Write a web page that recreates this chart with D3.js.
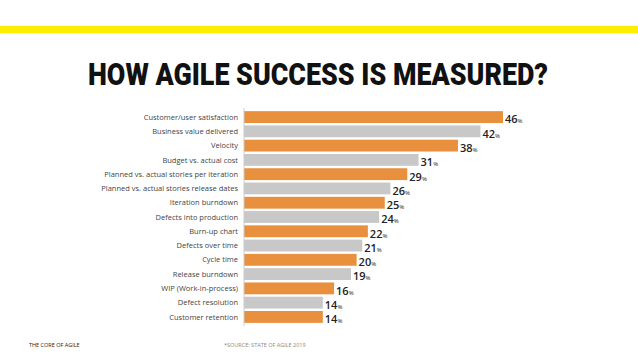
<html>
<head>
<style>
  body { margin: 0; background: #fff; }
  text { font-family: "Open Sans", sans-serif; }
</style>
</head>
<body>
<svg id="mainSvg" width="638" height="359"></svg>
<script src="https://cdn.jsdelivr.net/npm/d3@7/dist/d3.min.js"></script>
<script>
  const categories = [
    'Customer/user satisfaction', 'Business value delivered', 'Velocity',
    'Budget vs. actual cost', 'Planned vs. actual stories per iteration',
    'Planned vs. actual stories release dates', 'Iteration burndown',
    'Defects into production', 'Burn-up chart', 'Defects over time',
    'Cycle time', 'Release burndown', 'WIP (Work-in-process)',
    'Defect resolution', 'Customer retention'
  ]
  const values = [46, 42, 38, 31, 29, 26, 25, 24, 22, 21, 20, 19, 16, 14, 14]
  const barColors = ['#e8903d', '#c8c8c8']

  const svg = d3.select('#mainSvg')

  // yellow rule + title
  svg.append('rect').attr('x', 0).attr('y', 26).attr('width', 638).attr('height', 7).attr('fill', '#ffee00')
  svg.append('text')
     .attr('x', 88).attr('y', 85)
     .attr('textLength', 460).attr('lengthAdjust', 'spacingAndGlyphs')
     .style('font-family', 'Roboto, sans-serif')
     .style('font-weight', 900).style('font-size', '31px')
     .attr('fill', '#111')
     .text('HOW AGILE SUCCESS IS MEASURED?')

  const x0 = 244
  const xScale = d3.scaleLinear().domain([0, 46]).range([x0, 503])
  const yScale = d3.scaleBand()
                   .domain(d3.range(categories.length))
                   .range([110, 324])
                   .paddingInner(0.17).paddingOuter(0.08)

  const bar = svg.selectAll('g.bar').data(values).join('g').attr('class', 'bar')
                 .attr('transform', (d, i) => `translate(0, ${yScale(i)})`)

  bar.append('rect')
     .attr('x', x0)
     .attr('width', d => xScale(d) - x0)
     .attr('height', yScale.bandwidth())
     .attr('fill', (d, i) => barColors[i % 2])

  bar.append('text')
     .attr('x', x0 - 6)
     .attr('y', yScale.bandwidth() / 2)
     .attr('dy', '0.35em')
     .attr('text-anchor', 'end')
     .attr('fill', '#444')
     .style('font-size', '7.5px')
     .text((d, i) => categories[i])

  const val = bar.append('text')
     .attr('x', d => xScale(d) + 2)
     .attr('y', yScale.bandwidth() / 2)
     .attr('dy', '0.4em')
     .attr('fill', '#222')
  val.append('tspan').style('font-size', '11px').style('font-weight', 600).text(d => d)
  val.append('tspan').style('font-size', '6px').text('%')

  // axis line
  svg.append('line').attr('x1', x0).attr('x2', x0).attr('y1', 108).attr('y2', 326)
     .attr('stroke', '#ccc').attr('stroke-width', 1)

  // footer
  svg.append('text').attr('x', 29).attr('y', 347).style('font-size', '5.5px').attr('fill', '#222')
     .text('THE CORE OF AGILE')
  svg.append('text').attr('x', 224).attr('y', 347).style('font-size', '5.5px').attr('fill', '#888')
     .text('*SOURCE: STATE OF AGILE 2019')
</script>
</body>
</html>
